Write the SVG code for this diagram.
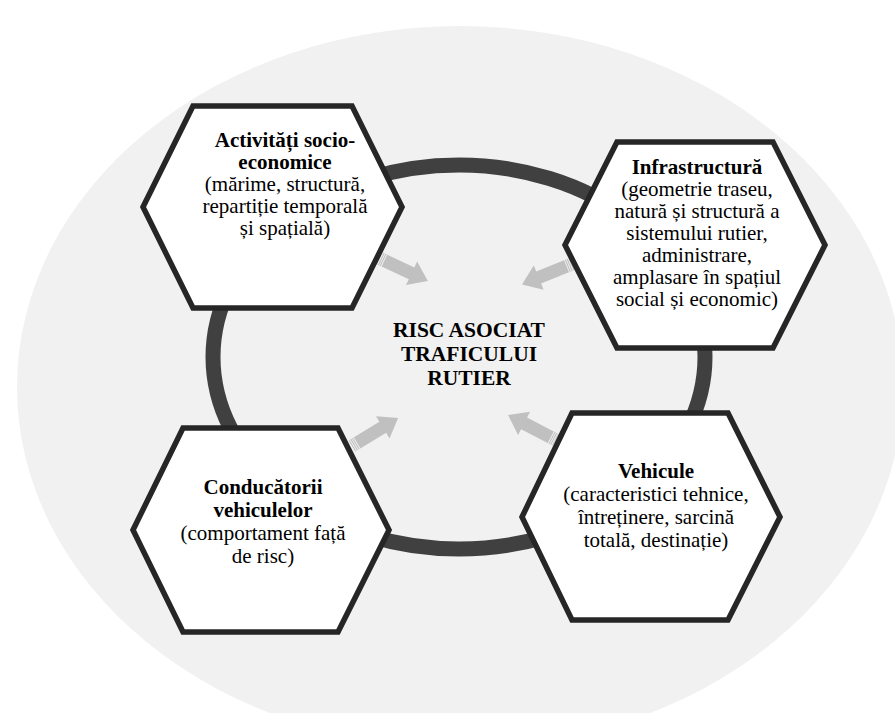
<svg xmlns="http://www.w3.org/2000/svg" xmlns:xlink="http://www.w3.org/1999/xlink" width="895" height="713" viewBox="0 0 895 713">
<style>
.hex{fill:#ffffff;stroke:#262626;stroke-width:5.5;stroke-linejoin:miter}
.t{font-family:"Liberation Serif","Times New Roman",serif;font-size:21px;fill:#000;text-anchor:middle}
.b{font-weight:bold}
.c{font-family:"Liberation Serif","Times New Roman",serif;font-size:21.5px;font-weight:bold;fill:#000;text-anchor:middle}
.arr{fill:#c0c0c0}
.st{stroke:#f2f2f2;stroke-width:0.9}
</style>
<defs>
<g id="arrow">
<path class="arr" d="M0,-6.5 L36,-6.5 L36,-13 L54,0 L36,13 L36,6.5 L0,6.5 Z"/>
<line class="st" x1="1.5" y1="-6.5" x2="1.5" y2="6.5"/>
<line class="st" x1="3.5" y1="-6.5" x2="3.5" y2="6.5"/>
<line class="st" x1="5.5" y1="-6.5" x2="5.5" y2="6.5"/>
</g>
</defs>
<rect width="895" height="713" fill="#ffffff"/>
<ellipse cx="460" cy="387" rx="443" ry="361" fill="#f1f1f1"/>
<g id="connectors">
<ellipse cx="459" cy="357" rx="246" ry="192" fill="none" stroke="#404040" stroke-width="15"/>
<use xlink:href="#arrow" transform="translate(379,258) rotate(25.2)"/>
<use xlink:href="#arrow" transform="translate(572,264) rotate(157.8)"/>
<use xlink:href="#arrow" transform="translate(352,446) rotate(-31.3)"/>
<use xlink:href="#arrow" transform="translate(556,440) rotate(207.5)"/>
</g>
<g id="center">
<text class="c" x="469" y="337">RISC ASOCIAT</text>
<text class="c" x="469" y="361">TRAFICULUI</text>
<text class="c" x="469" y="385">RUTIER</text>
</g>
<g id="hex-activitati">
<polygon class="hex" points="143,207 193,106 352,106 402,207 352,308 193,308"/>
<text class="t b" x="285" y="147">Activități socio-</text>
<text class="t b" x="285" y="169">economice</text>
<text class="t" x="285" y="191">(mărime, structură,</text>
<text class="t" x="285" y="213">repartiție temporală</text>
<text class="t" x="285" y="235">și spațială)</text>
</g>
<g id="hex-infrastructura">
<polygon class="hex" points="565,245 617,142 773,142 825,245 773,348 617,348"/>
<text class="t b" x="697" y="174">Infrastructură</text>
<text class="t" x="697" y="196">(geometrie traseu,</text>
<text class="t" x="697" y="218">natură și structură a</text>
<text class="t" x="697" y="240">sistemului rutier,</text>
<text class="t" x="697" y="262">administrare,</text>
<text class="t" x="697" y="284">amplasare în spațiul</text>
<text class="t" x="697" y="306">social și economic)</text>
</g>
<g id="hex-conducatori">
<polygon class="hex" points="133,530 183,428 338,428 389,530 338,632 183,632"/>
<text class="t b" x="263" y="494">Conducătorii</text>
<text class="t b" x="263" y="517">vehiculelor</text>
<text class="t" x="263" y="540">(comportament față</text>
<text class="t" x="263" y="563">de risc)</text>
</g>
<g id="hex-vehicule">
<polygon class="hex" points="522,517 572,413 728,413 780,517 728,620 572,620"/>
<text class="t b" x="656" y="478">Vehicule</text>
<text class="t" x="656" y="501">(caracteristici tehnice,</text>
<text class="t" x="656" y="524">întreținere, sarcină</text>
<text class="t" x="656" y="547">totală, destinație)</text>
</g>
</svg>
